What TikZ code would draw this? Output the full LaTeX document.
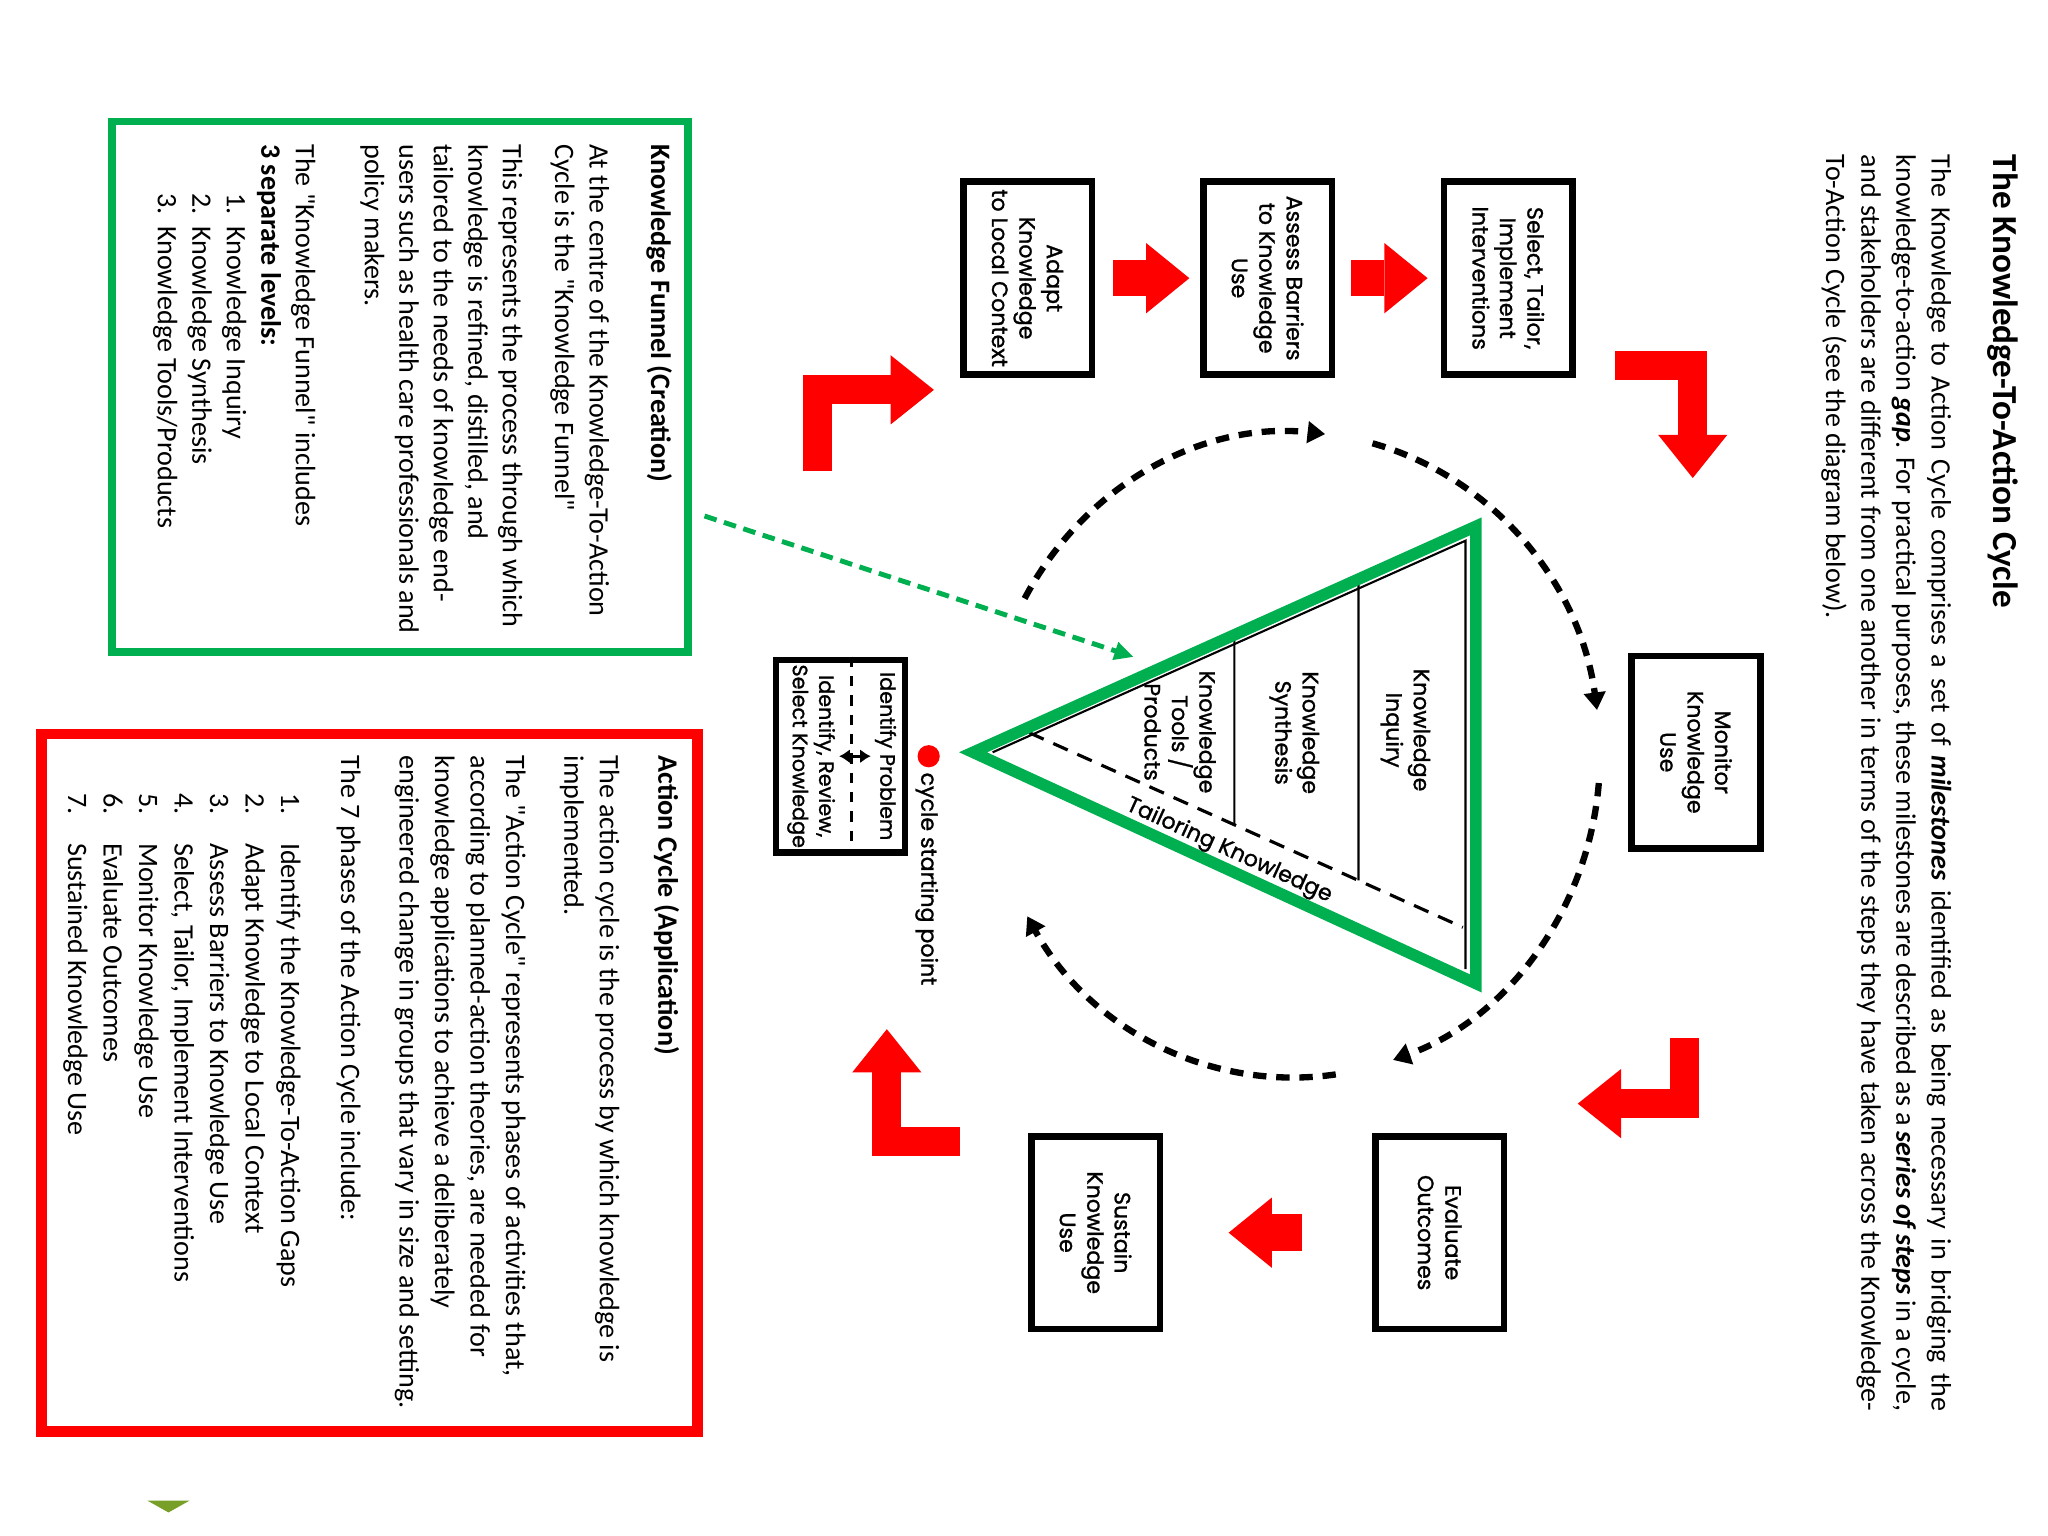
\documentclass[tikz,border=0pt]{standalone}
\usepackage{fontspec}
\setmainfont{Carlito}[Ligatures=TeXOff]
\newfontfamily\diagfont{Poppins}[FakeBold=1.2]
\usetikzlibrary{arrows.meta,calc}
\definecolor{funnelgreen}{RGB}{0,176,80}
\definecolor{olivemark}{RGB}{120,160,40}
\newcommand{\levelitem}[2]{\hspace*{14pt}\makebox[9.3pt][l]{#1}#2}
\newcommand{\phaseitem}[2]{\hspace*{10.8pt}\makebox[14.1pt][l]{#1}#2}

\begin{document}
\begin{tikzpicture}[x=0.013061cm, y=0.013061cm,
	diagtext/.style={font=\diagfont\fontsize{6.3}{7.8}\selectfont},
	stepbox/.style={diagtext, draw, line width=1.9pt, rotate=-90, minimum width=1.927cm, minimum height=1.287cm, inner sep=0pt, align=center},
	steplabel/.style={diagtext, rotate=-90, inner sep=1pt, align=center},
	textblock/.style={rotate=-90, anchor=north west, inner sep=0pt, align=left, font=\fontsize{8}{9.8}\selectfont},
	fatarrow/.style={red, line width=10.4pt, -{Triangle[length=12.3pt, width=20pt, line width=0pt]}},
	bentarrow/.style={red, line width=8.2pt, line join=miter, -{Triangle[length=12.3pt, width=19.7pt, line width=0pt]}},
	cyclearc/.style={line width=1.8pt, dash pattern=on 3.8pt off 2.8pt, -{Triangle[length=5pt, width=6pt]}},
	linkarrow/.style={funnelgreen, line width=1.4pt, dash pattern=on 3.6pt off 2.2pt, -{Triangle[length=5.5pt, width=5pt]}}]
	\useasboundingbox (0,0) rectangle (1568,1176);
	\fill[white] (0,0) rectangle (1568,1176);

	% header text
	\node[textblock, font=\bfseries\fontsize{10}{12}\selectfont] (title) at (1546,1058) {The Knowledge-To-Action Cycle};
	\node[textblock, text width=12.565cm, align=justify, font=\fontsize{8}{10}\selectfont] (intro) at (1494.5,1058) {\noindent The Knowledge to Action Cycle comprises a set of \textbf{\textit{milestones}} identified as being necessary in bridging the\linebreak
	knowledge-to-action \textbf{\textit{gap}}. For practical purposes, these milestones are described as a \textbf{\textit{series of steps}} in a cycle,\linebreak
	and stakeholders are different from one another in terms of the steps they have taken across the Knowledge-\linebreak
	To-Action Cycle (see the diagram below).};

	% side boxes
	\node[draw=funnelgreen, line width=2.2pt, minimum width=5.760cm, minimum height=5.303cm] (funnelbox) at (306.5,880) {};
	\node[textblock] (funneltext) at (515,1066) {\textbf{Knowledge Funnel (Creation)}\\[7.7pt]
	At the centre of the Knowledge-To-Action\\
	Cycle is the "Knowledge Funnel"\\[5.1pt]
	This represents the process through which\\
	knowledge is refined, distilled, and\\
	tailored to the needs of knowledge end-\\
	users such as health care professionals and\\
	policy makers.\\[9.9pt]
	The "Knowledge Funnel" includes\\
	\textbf{3 separate levels:}\\
	\levelitem{1.}{Knowledge Inquiry}\\
	\levelitem{2.}{Knowledge Synthesis}\\
	\levelitem{3.}{Knowledge Tools/Products}};

	\node[draw=red, line width=3.1pt, minimum width=6.557cm, minimum height=6.975cm] (actionbox) at (283,347) {};
	\node[textblock, font=\fontsize{8}{10.1}\selectfont] (actiontext) at (520.5,598) {\textbf{Action Cycle (Application)}\\[6.5pt]
	The action cycle is the process by which knowledge is\\
	implemented.\\[6.5pt]
	The "Action Cycle" represents phases of activities that,\\
	according to planned-action theories, are needed for\\
	knowledge applications to achieve a deliberately\\
	engineered change in groups that vary in size and setting.\\[6.5pt]
	The 7 phases of the Action Cycle include:\\[7pt]
	\phaseitem{1.}{Identify the Knowledge-To-Action Gaps}\\
	\phaseitem{2.}{Adapt Knowledge to Local Context}\\
	\phaseitem{3.}{Assess Barriers to Knowledge Use}\\
	\phaseitem{4.}{Select, Tailor, Implement Interventions}\\
	\phaseitem{5.}{Monitor Knowledge Use}\\
	\phaseitem{6.}{Evaluate Outcomes}\\
	\phaseitem{7.}{Sustained Knowledge Use}};

	% cycle steps
	\foreach \stepname/\sx/\sy/\steptext in {adapt/786.7/963/{Adapt\\Knowledge\\to Local Context}, assess/970.5/963/{Assess Barriers\\to Knowledge\\Use}, select/1154.8/963/{Select, Tailor,\\Implement\\Interventions}, monitor/1298.5/600/{Monitor\\Knowledge\\Use}, evaluate/1102.3/232.2/{Evaluate\\Outcomes}, sustain/838.8/232.2/{Sustain\\Knowledge\\Use}}
		\node[stepbox] (\stepname) at (\sx,\sy) {\steptext};
	\node[stepbox] (idbox) at (643.5,597) {};
	\node[steplabel, font=\diagfont\fontsize{5.9}{7.5}\selectfont] (idprob) at (678,597) {Identify Problem};
	\node[steplabel, font=\diagfont\fontsize{5.9}{7.5}\selectfont] (idsel) at (621,597) {Identify, Review,\\Select Knowledge};
	\draw[line width=0.9pt, dash pattern=on 3pt off 2.5pt] ($(idbox.west)+(8.5,0)$) -- ($(idbox.east)+(8.5,0)$);
	\draw[line width=0.9pt, {Latex[length=3pt,width=4pt]}-{Latex[length=3pt,width=4pt]}] (idsel) -- (idprob);
	\node[circle, fill=red, inner sep=0pt, minimum size=0.222cm] (startdot) at (711,597) {};
	\node[steplabel, anchor=west, inner sep=0pt] (startlabel) at (709.5,585) {cycle starting point};

	% funnel
	\coordinate (apex) at (745,600);
	\coordinate (ftop) at (1130,773);
	\coordinate (fbot) at (1130,423);
	\coordinate (tl1) at (788,615);
	\coordinate (tl2) at (1120,466);
	\draw[line width=0.6pt] (760,600) -- (1122,762) -- (1122,434);
	\foreach \dx in {945,1040}
		\draw[line width=0.6pt] (intersection of apex--ftop and \dx,0--\dx,1176) -- (intersection of tl1--tl2 and \dx,0--\dx,1176);
	\draw[line width=0.9pt, dash pattern=on 4.5pt off 3pt] (tl1) -- (tl2);
	\draw[funnelgreen, line width=3.3pt, line join=miter] (apex) -- (ftop) -- (fbot) -- cycle;
	\node[steplabel] (inquiry) at (1076,617) {Knowledge\\Inquiry};
	\node[steplabel] (synthesis) at (991,615) {Knowledge\\Synthesis};
	\node[steplabel] (tools) at (903.5,615.5) {Knowledge\\Tools /\\Products};
	\node[diagtext, rotate=-24.5, inner sep=0pt] (tailor) at (941,524.5) {Tailoring Knowledge};

	% dashed cycle
	\coordinate (cyc) at (990,598);
	\foreach \a/\b in {151/84, 75/8, -5/-71, -82/-150}
		\draw[cyclearc] ([shift={(\a:235 and 247)}]cyc) arc[start angle=\a, end angle=\b, x radius=235, y radius=247];

	\coordinate (linkend) at (868,673);
	\draw[linkarrow, shorten <=3.7pt] ($(funnelbox.south east)!0.267!(funnelbox.north east)$) -- (linkend);

	% red arrows
	\draw[fatarrow, shorten <=5pt, shorten >=3pt] (adapt) -- (assess);
	\draw[fatarrow, shorten <=4.6pt, shorten >=3.7pt] (assess) -- (select);
	\draw[fatarrow, shorten <=20pt, shorten >=18.6pt] (evaluate) -- (sustain);
	\coordinate (b1s) at (626,815);
	\coordinate (b1e) at (715,877.5);
	\coordinate (b2s) at (1236.5,896);
	\coordinate (b2e) at (1296,810);
	\coordinate (b3s) at (1290,381);
	\coordinate (b3e) at (1208,331);
	\coordinate (b4s) at (735,302);
	\coordinate (b4e) at (679,388);
	\draw[bentarrow] (b1s) |- (b1e);
	\draw[bentarrow] (b2s) -| (b2e);
	\draw[bentarrow] (b3s) |- (b3e);
	\draw[bentarrow] (b4s) -| (b4e);

	\fill[olivemark] (113,27) -- (145,27) -- (129,18) -- cycle;
\end{tikzpicture}
\end{document}
